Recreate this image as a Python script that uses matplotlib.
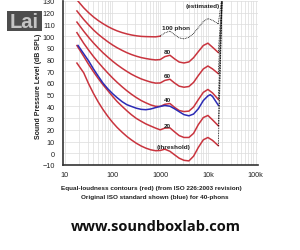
import matplotlib.pyplot as plt
from matplotlib.patches import Rectangle

plt.rcParams['font.family'] = ['Liberation Sans', 'DejaVu Sans']

# frequencies (Hz) where the ISO 226:2003 contours were read
freqs = [18, 25, 31.5, 40, 50, 63, 80, 100, 125, 160, 200, 250, 315, 400, 500, 630,
         800, 1000, 1250, 1600, 2000, 2500, 3150, 4000, 5000, 6300, 8000, 10000, 12500, 16500]

threshold = [77, 68.7, 59.5, 51.1, 44.0, 37.5, 31.5, 26.5, 22.1, 17.9, 14.4, 11.4, 8.6, 6.2, 4.4, 3.0,
             2.2, 2.4, 3.5, 1.7, -1.3, -4.2, -6.0, -6.5, -2.5, 5.0, 11.5, 13.5, 11.0, 6.5]
phon20 = [92, 82.7, 76.0, 69.6, 64.0, 58.6, 53.5, 48.7, 44.2, 40.0, 36.3, 32.9, 29.8, 27.3, 25.1, 23.3,
          21.5, 20.0, 21.5, 21.7, 18.3, 15.1, 13.5, 13.5, 17.0, 24.5, 30.5, 32.3, 28.5, 23.5]
phon40 = [103, 93.9, 88.2, 82.6, 77.8, 73.1, 68.5, 64.4, 60.6, 56.7, 53.4, 50.4, 47.6, 45.0, 43.1, 41.3,
          40.1, 40.0, 41.8, 42.5, 39.2, 36.5, 35.6, 36.0, 39.5, 45.8, 52.0, 54.5, 51.5, 46.0]
phon60 = [112, 104.2, 99.1, 94.2, 90.0, 85.9, 82.1, 78.7, 75.6, 72.5, 69.9, 67.5, 65.4, 63.5, 62.1, 60.8,
          59.9, 60.0, 62.2, 63.2, 60.0, 57.3, 56.4, 57.0, 60.5, 66.4, 72.0, 74.5, 72.0, 68.0]
phon80 = [121.5, 114.2, 109.7, 105.3, 101.7, 98.4, 95.2, 92.5, 90.1, 87.8, 85.9, 84.3, 82.9, 81.7, 80.9, 80.2,
          79.7, 80.0, 82.5, 83.7, 80.6, 77.9, 77.1, 78.0, 81.6, 86.8, 92.0, 94.0, 90.5, 86.0]
phon100 = [131, 124.2, 120.1, 116.4, 113.4, 110.7, 108.2, 106.2, 104.5, 103.0, 101.9, 101.0, 100.3, 99.8, 99.6, 99.5,
           99.4, 100.0, 102.8, 104.3, 101.2, 98.5, 97.7, 99.0, 102.3, 107.2, 112.5, 115.0, 113.5, 110.5]

# original ISO 40-phon contour (blue)
blue_freqs = [19, 31.5, 40, 50, 63, 80, 100, 125, 160, 200, 250, 315, 400, 500, 630, 800,
              1000, 1250, 1600, 2000, 2500, 3150, 4000, 5000, 6300, 8000, 10000, 11200, 12500, 16500]
blue_db = [92, 79, 72, 66, 60, 55, 51, 47.5, 44, 41.5, 40, 38.5, 37.5, 37.2, 37.8, 39,
           40, 40.8, 40.2, 38, 35.5, 33, 32, 33.5, 38, 45, 49, 50, 48.5, 41]

# estimated (dotted) continuation above 16 kHz
est_freq = 20000
est_top = 136

xticks = [10, 100, 1000, 10000, 100000]
xtick_labels = ['10', '100', '1000', '10k', '100k']
yticks = list(range(-10, 131, 10))

label_freqs = [2150, 1400, 1400, 1400, 1400, 1950, 7900]
label_dbs = [107, 86.5, 66, 45.5, 23.3, 6.2, 125.8]
label_texts = ['100 phon', '80', '60', '40', '20', '(threshold)', '(estimated)']

red = '#c9343e'

fig = plt.figure(figsize=(3.0, 2.51), dpi=100)
ax = fig.add_axes([63 / 300, 1 - 166 / 251, 195 / 300, 164 / 251])
ax.set_xscale('log')
ax.set_xlim(9.2, 112000)
ax.set_ylim(-10, 130)

ax.grid(True, which='both', color='#dcdcdc', lw=0.5)
ax.set_axisbelow(True)

for vals in [threshold, phon20, phon40, phon60, phon80]:
    ax.plot(freqs, vals, color=red, lw=1.1, zorder=3)
    ax.plot([freqs[-1], est_freq], [vals[-1], est_top], color='black', lw=0.6,
            ls=(0, (1, 1)), zorder=4)

# 100 phon: measured part red, upper part estimated (dotted)
k = freqs.index(1000)
ax.plot(freqs[:k + 1], phon100[:k + 1], color=red, lw=1.1, zorder=3)
ax.plot(freqs[k:], phon100[k:], color='black', lw=0.6, ls=(0, (1, 1)), zorder=4)
ax.plot([freqs[-1], est_freq], [phon100[-1], est_top], color='black', lw=0.6,
        ls=(0, (1, 1)), zorder=4)

ax.plot(blue_freqs, blue_db, color='#2b2bb5', lw=1.1, zorder=3)

for f, d, t in zip(label_freqs, label_dbs, label_texts):
    ax.text(f, d, t, fontsize=4.6, fontweight='bold', ha='center', va='center',
            color='#222222', zorder=5)

ax.set_xticks(xticks)
ax.set_xticklabels(xtick_labels)
ax.set_yticks(yticks)
ax.tick_params(which='both', length=0, labelsize=5.2, colors='#222222')
ax.tick_params(axis='y', pad=6)
ax.tick_params(axis='x', pad=4)
for s in ['top', 'right']:
    ax.spines[s].set_visible(False)
for s in ['left', 'bottom']:
    ax.spines[s].set_color('#333333')
    ax.spines[s].set_linewidth(1.2)

fig.text(38 / 300, 1 - 86 / 251, 'Sound Pressure Level (dB SPL)', rotation=90,
         fontsize=5, fontweight='bold', ha='center', va='center', color='#222222')
fig.text(151 / 300, 1 - 189 / 251, 'Equal-loudness contours (red) (from ISO 226:2003 revision)',
         fontsize=4.6, fontweight='bold', ha='center', va='center', color='#222222')
fig.text(155 / 300, 1 - 197.5 / 251, 'Original ISO standard shown (blue) for 40-phons',
         fontsize=4.6, fontweight='bold', ha='center', va='center', color='#222222')
fig.text(156 / 300, 1 - 227 / 251, 'www.soundboxlab.com', fontsize=10.5,
         fontweight='bold', ha='center', va='center', color='#111111',
         family=['Open Sans', 'DejaVu Sans'])

# watermark logo
fig.patches.append(Rectangle((7 / 300, 1 - 32 / 251), 35 / 300, 20 / 251,
                             transform=fig.transFigure, facecolor='#4d4d4d',
                             edgecolor='none'))
fig.text(24.5 / 300, 1 - 22.5 / 251, 'Lai', fontsize=14.5, fontweight='bold',
         ha='center', va='center', color='#c4c4c4')

fig.savefig('out.png', dpi=100)
